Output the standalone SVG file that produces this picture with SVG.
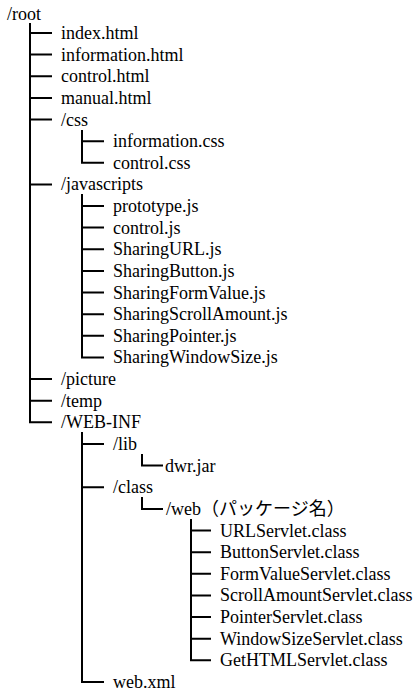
<svg xmlns="http://www.w3.org/2000/svg" width="415" height="691" viewBox="0 0 415 691">
<style>
text{font-family:"Liberation Serif","Times New Roman","DejaVu Serif",serif;font-size:18px;fill:#000}
.jp{font-family:"Noto Sans CJK JP",sans-serif}
.c{stroke:#000;stroke-width:2;fill:none}
</style>
<rect width="415" height="691" fill="#fff"/>
<g id="connectors" class="c">
<path d="M30,23V422.3H52M30,33H52M30,54.6H52M30,76.3H52M30,97.9H52M30,119.5H52M30,184.4H52M30,379H52M30,400.7H52"/>
<path d="M82,130V162.8H104M82,141.2H104"/>
<path d="M82,194V357.4H104M82,206H104M82,227.6H104M82,249.3H104M82,270.9H104M82,292.5H104M82,314.2H104M82,335.8H104"/>
<path d="M82,432V682H104M82,444H104M82,487.3H104"/>
<path d="M142,454V465.6H163"/>
<path d="M142,497V508.9H163"/>
<path d="M191,519V660.3H211M191,530.5H211M191,552.2H211M191,573.8H211M191,595.4H211M191,617.1H211M191,638.7H211"/>
</g>
<g id="root"><text x="7" y="20">/root</text></g>
<g id="index"><text x="61" y="39">index.html</text></g>
<g id="information"><text x="61" y="60.6">information.html</text></g>
<g id="control"><text x="61" y="82.3">control.html</text></g>
<g id="manual"><text x="61" y="103.9">manual.html</text></g>
<g id="css"><text x="61" y="125.5">/css</text></g>
<g id="informationcss"><text x="113" y="147.2">information.css</text></g>
<g id="controlcss"><text x="113" y="168.8">control.css</text></g>
<g id="javascripts"><text x="61" y="190.4">/javascripts</text></g>
<g id="prototype"><text x="113" y="212">prototype.js</text></g>
<g id="controljs"><text x="113" y="233.6">control.js</text></g>
<g id="sharingurl"><text x="113" y="255.3">SharingURL.js</text></g>
<g id="sharingbutton"><text x="113" y="276.9">SharingButton.js</text></g>
<g id="sharingformvalue"><text x="113" y="298.5">SharingFormValue.js</text></g>
<g id="sharingscroll"><text x="113" y="320.2">SharingScrollAmount.js</text></g>
<g id="sharingpointer"><text x="113" y="341.8">SharingPointer.js</text></g>
<g id="sharingwindow"><text x="113" y="363.4">SharingWindowSize.js</text></g>
<g id="picture"><text x="61" y="385">/picture</text></g>
<g id="temp"><text x="61" y="406.7">/temp</text></g>
<g id="webinf"><text x="61" y="428.3">/WEB-INF</text></g>
<g id="lib"><text x="113" y="450">/lib</text></g>
<g id="dwr"><text x="165" y="471.6">dwr.jar</text></g>
<g id="class"><text x="113" y="493.3">/class</text></g>
<g id="web"><text x="166" y="514.9">/web<tspan class="jp">（パッケージ名）</tspan></text></g>
<g id="urlservlet"><text x="220" y="536.5">URLServlet.class</text></g>
<g id="buttonservlet"><text x="220" y="558.2">ButtonServlet.class</text></g>
<g id="formvalueservlet"><text x="220" y="579.8">FormValueServlet.class</text></g>
<g id="scrollservlet"><text x="220" y="601.4">ScrollAmountServlet.class</text></g>
<g id="pointerservlet"><text x="220" y="623.1">PointerServlet.class</text></g>
<g id="windowservlet"><text x="220" y="644.7">WindowSizeServlet.class</text></g>
<g id="gethtmlservlet"><text x="220" y="666.3">GetHTMLServlet.class</text></g>
<g id="webxml"><text x="113" y="688">web.xml</text></g>
</svg>
